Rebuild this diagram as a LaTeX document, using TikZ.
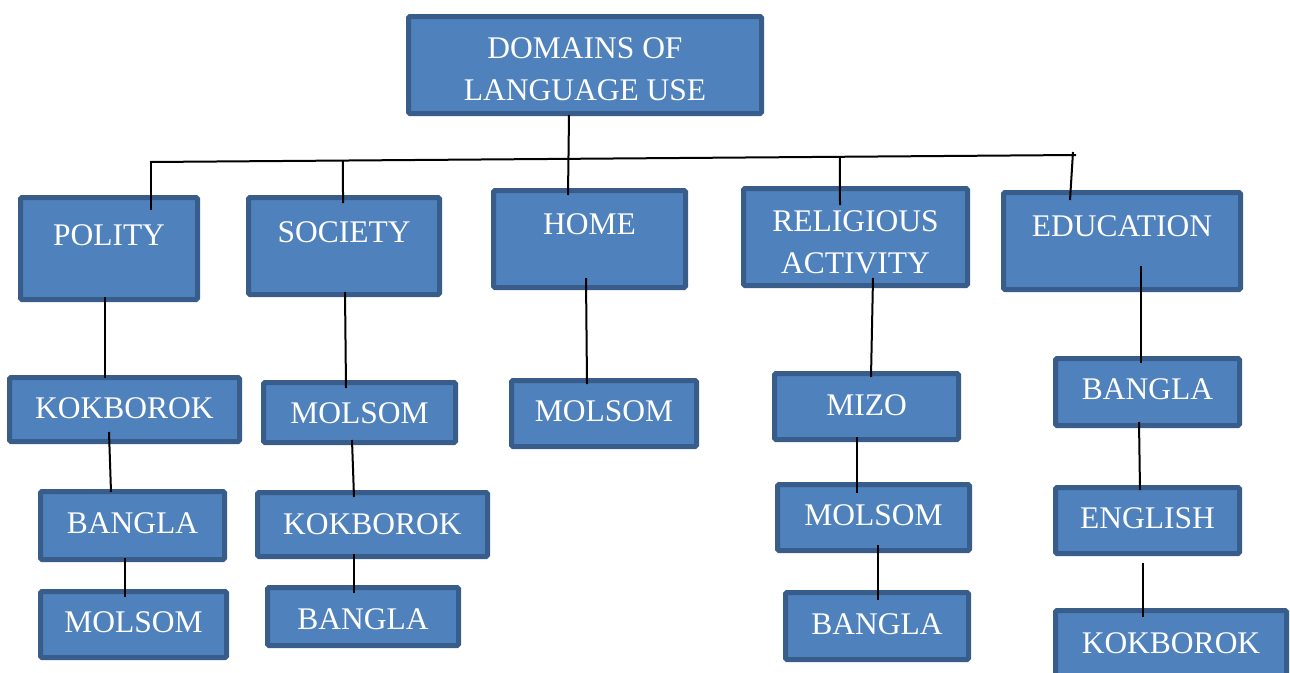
\documentclass[tikz,border=0pt]{standalone}
\usepackage{fontspec}
\setmainfont{Liberation Serif}
\usetikzlibrary{calc}
\definecolor{boxfill}{HTML}{4F81BD}
\definecolor{boxline}{HTML}{385D8A}
\tikzset{
  box/.style={draw=boxline, fill=boxfill, line width=5pt, rounded corners=1.5pt,
    text=white, font=\fontsize{31.5}{42}\selectfont, outer sep=0pt, inner ysep=0pt, anchor=north west},
  twoline/.style={draw=boxline, fill=boxfill, line width=5pt, rounded corners=1.5pt,
    text=white, font=\fontsize{31.5}{42}\selectfont, outer sep=0pt, align=center},
  conn/.style={draw=black, line width=2pt}
}
\begin{document}
\begin{tikzpicture}[x=1pt,y=-1pt]
\useasboundingbox (0,0) rectangle (1290,672);
\clip (0,0) rectangle (1290,672);
% top
\node[twoline, minimum width=353, minimum height=97] (dom) at (585,65) {\rule{0pt}{30pt}DOMAINS OF\\LANGUAGE USE};
% level 1
\node[box, minimum width=177, text height=48, text depth=54] (polity) at (20.5,197.5) {POLITY};
\node[box, minimum width=191, text height=45, text depth=52] (society) at (248.5,197.5) {SOCIETY};
\node[box, minimum width=192, text height=44, text depth=53] (home) at (493.5,190.5) {HOME};
\node[twoline, minimum width=224, minimum height=97] (relig) at (855.5,237) {\rule{0pt}{32pt}RELIGIOUS\\ACTIVITY};
\node[box, minimum width=237, text height=44, text depth=53] (edu) at (1003.5,192.5) {EDUCATION};
% polity column
\node[box, minimum width=230, text height=41, text depth=23] (polkok) at (9.5,377.5) {KOKBOROK};
\node[box, minimum width=184, text height=42, text depth=26] (polban) at (40.5,491.5) {BANGLA};
\node[box, minimum width=186, text height=41, text depth=25] (polmol) at (40.5,591.5) {MOLSOM};
% society column
\node[box, minimum width=192, text height=41, text depth=19] (socmol) at (263.5,382.5) {MOLSOM};
\node[box, minimum width=230, text height=42, text depth=22] (sockok) at (257.5,492.5) {KOKBOROK};
\node[box, minimum width=191, text height=42, text depth=16] (socban) at (267.5,587.5) {BANGLA};
% home column
\node[box, minimum width=185, text height=41, text depth=25] (homemol) at (511.5,380.5) {MOLSOM};
% religious column
\node[box, minimum width=184, text height=42, text depth=24] (mizo) at (774.5,373.5) {MIZO};
\node[box, minimum width=192, text height=41, text depth=25] (relmol) at (777.5,484.5) {MOLSOM};
\node[box, minimum width=183, text height=42, text depth=25] (relban) at (785.5,592.5) {BANGLA};
% education column
\node[box, minimum width=184, text height=41, text depth=26] (eduban) at (1055.5,358.5) {BANGLA};
\node[box, minimum width=184, text height=41, text depth=25] (edueng) at (1055.5,487.5) {ENGLISH};
\node[box, minimum width=231, text height=43, text depth=35] (edukok) at (1055.5,610.5) {KOKBOROK};
% connectors
\coordinate (barL) at (150,162);
\coordinate (barR) at (1076,155);
\draw[conn] ($(dom.south)+(-16,1.5)$) -- ($(home.north)+(-21.5,4.5)$);
\draw[conn] (barL) -- (barR);
\draw[conn] ($(barL)+(1,0)$) -- ($(polity.north)+(42,12.5)$);
\draw[conn] ($(barL)!0.2084!(barR)$) -- ($(society.north)+(-1,5.5)$);
\draw[conn] ($(barL)!0.745!(barR)$) -- ($(relig.north)+(-15.5,16.5)$);
\draw[conn] ($(barR)+(-3,-3)$) -- ($(edu.north)+(-52,7.5)$);
\draw[conn] ($(polity.south)+(-4,-2.5)$) -- ($(polkok.north)+(-19.5,0.5)$);
\draw[conn] ($(polkok.south)+(-15.5,-9.5)$) -- ($(polban.north)+(-21.5,0.5)$);
\draw[conn] ($(polban.south)+(-7.5,-1.5)$) -- ($(polmol.north)+(-8.5,5.5)$);
\draw[conn] ($(society.south)+(1,-2.5)$) -- ($(socmol.north)+(-13.5,5.5)$);
\draw[conn] ($(socmol.south)+(-7.5,-2.5)$) -- ($(sockok.north)+(-18.5,4.5)$);
\draw[conn] ($(sockok.south)+(-18.5,-2.5)$) -- ($(socban.north)+(-9,5.5)$);
\draw[conn] ($(home.south)+(-3.5,-9.5)$) -- ($(homemol.north)+(-17,3.5)$);
\draw[conn] ($(relig.south)+(17.5,-7.5)$) -- ($(mizo.north)+(4.5,3.5)$);
\draw[conn] ($(mizo.south)+(-9.5,-2.5)$) -- ($(relmol.north)+(-16.5,8.5)$);
\draw[conn] ($(relmol.south)+(4.5,-5.5)$) -- ($(relban.north)+(1,7.5)$);
\draw[conn] ($(edu.south)+(19,-23.5)$) -- ($(eduban.north)+(-6.5,4.5)$);
\draw[conn] ($(eduban.south)+(-8.5,-3.5)$) -- ($(edueng.north)+(-7.5,2.5)$);
\draw[conn] ($(edueng.south)+(-4.5,9.5)$) -- ($(edukok.north)+(-28,6.5)$);
\end{tikzpicture}
\end{document}
